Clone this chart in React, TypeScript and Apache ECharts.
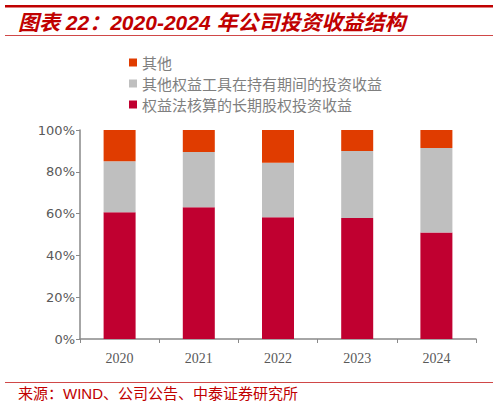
import { useRef, useEffect } from 'react';
import * as echarts from 'echarts';

const years = ['2020', '2021', '2022', '2023', '2024'];
const equityMethod = [60.6, 63.0, 58.3, 57.9, 51.0];
const otherEquityTools = [24.5, 26.5, 26.0, 32.1, 40.4];
const others = [14.9, 10.5, 15.7, 10.0, 8.6];

const nameOthers = '其他';
const nameTools = '其他权益工具在持有期间的投资收益';
const nameEquity = '权益法核算的长期股权投资收益';

const RED = '#C00000';
const CJK = '"Noto Sans CJK SC", sans-serif';
const MIXED = '"Liberation Sans", "Noto Sans CJK SC", sans-serif';

export default function App() {
  const ref = useRef<HTMLDivElement>(null);

  useEffect(() => {
    document.body.style.margin = '0';
    if (!ref.current) return;
    const chart = echarts.init(ref.current, null, { renderer: 'svg' });

    chart.setOption({
      animation: false,
      backgroundColor: '#fff',
      graphic: [
        { type: 'rect', shape: { x: 5, y: 5, width: 488, height: 2.5 }, style: { fill: RED } },
        {
          type: 'text', x: 18, y: 22,
          style: {
            text: '图表 22：2020-2024 年公司投资收益结构',
            font: `italic bold 21px ${MIXED}`, fill: RED, textVerticalAlign: 'middle',
          },
        },
        { type: 'rect', shape: { x: 5, y: 35, width: 488, height: 1 }, style: { fill: '#D04848' } },
        { type: 'rect', shape: { x: 5, y: 382, width: 488, height: 1 }, style: { fill: '#D04848' } },
        {
          type: 'text', x: 18, y: 393,
          style: {
            text: '来源：WIND、公司公告、中泰证券研究所',
            font: `15px ${MIXED}`, fill: RED, textVerticalAlign: 'middle',
          },
        },
      ],
      legend: {
        orient: 'vertical',
        left: 124,
        top: 50,
        itemWidth: 8,
        itemHeight: 8,
        itemGap: 6,
        icon: 'rect',
        data: [nameOthers, nameTools, nameEquity],
        textStyle: { fontFamily: CJK, fontSize: 15, color: '#7f7f7f', lineHeight: 14 },
      },
      grid: { left: 80, right: 22, top: 130, bottom: 67 },
      xAxis: {
        type: 'category',
        data: years,
        axisLine: { lineStyle: { color: '#898989', width: 1.5 } },
        axisTick: { show: true, length: 4, lineStyle: { color: '#898989' } },
        axisLabel: { color: '#595959', fontSize: 14, fontFamily: '"Liberation Serif", serif', margin: 12 },
      },
      yAxis: {
        type: 'value',
        min: 0,
        max: 100,
        interval: 20,
        axisLine: { show: true, lineStyle: { color: '#898989', width: 1.5 } },
        axisTick: { show: true, length: 4, lineStyle: { color: '#898989' } },
        splitLine: { show: false },
        axisLabel: {
          color: '#595959', fontSize: 13, fontFamily: '"DejaVu Sans", sans-serif', margin: 5,
          formatter: '{value}%',
        },
      },
      series: [
        { name: nameEquity, type: 'bar', stack: 'total', barWidth: 32, data: equityMethod, itemStyle: { color: '#C00030' } },
        { name: nameTools, type: 'bar', stack: 'total', barWidth: 32, data: otherEquityTools, itemStyle: { color: '#BFBFBF' } },
        { name: nameOthers, type: 'bar', stack: 'total', barWidth: 32, data: others, itemStyle: { color: '#E03C00' } },
      ],
    });

    return () => chart.dispose();
  }, []);

  return <div ref={ref} style={{ width: 498, height: 406 }} />;
}
